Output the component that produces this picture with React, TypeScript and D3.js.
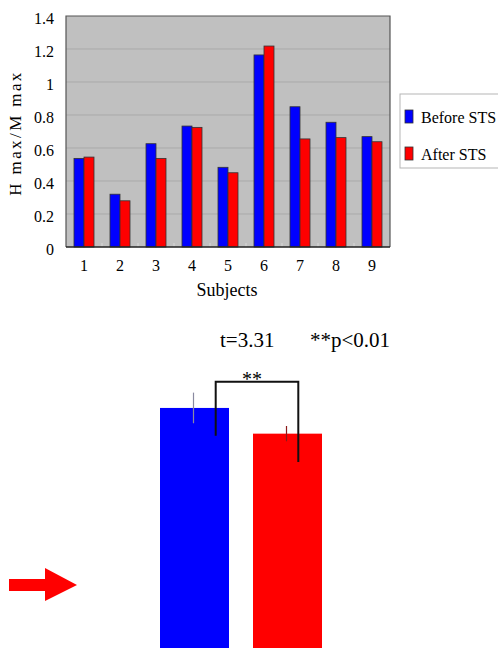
import React, { useEffect, useRef } from 'react';
import * as d3 from 'd3';

// per-subject H max / M max ratio
const subjects = ['1', '2', '3', '4', '5', '6', '7', '8', '9'];
const beforeSTS = [0.537, 0.32, 0.626, 0.733, 0.483, 1.164, 0.85, 0.756, 0.669];
const afterSTS = [0.545, 0.28, 0.537, 0.725, 0.45, 1.218, 0.655, 0.663, 0.638];
const yTicks = [0, 0.2, 0.4, 0.6, 0.8, 1, 1.2, 1.4];
const seriesNames = ['Before STS', 'After STS'];
const seriesColors = ['#0000ff', '#ff0000'];

// group means (bottom panel) with their error bars
const meanLabels = ['Before STS', 'After STS'];
const meanValues = [0.682, 0.635];
const meanErrors = [0.028, 0.014];
// bracket: left end, top, right end (same scale as the mean bars)
const bracketLevels = [0.631, 0.73, 0.583];
const statText = ['t=3.31', '**p<0.01'];

const App = () => {
  const svgRef = useRef<SVGSVGElement | null>(null);

  useEffect(() => {
    if (!svgRef.current) return;
    const svg = d3.select(svgRef.current);
    svg.selectAll('*').remove();

    // ---------- top panel ----------
    const left = 66, right = 390, top = 16, bottom = 247;
    const x = d3.scaleBand().domain(subjects).range([left, right]);
    const inner = d3.scaleBand().domain(seriesNames).range([0, 20]);
    const y = d3.scaleLinear().domain([0, 1.4]).range([bottom, top]);

    svg.append('rect')
      .attr('x', left).attr('y', top)
      .attr('width', right - left).attr('height', bottom - top)
      .attr('fill', '#c0c0c0');

    svg.selectAll('.grid')
      .data(yTicks.slice(1, -1))
      .enter()
      .append('line')
      .attr('x1', left).attr('x2', right)
      .attr('y1', d => y(d)).attr('y2', d => y(d))
      .attr('stroke', '#a9a9a9')
      .attr('stroke-width', 1);

    // plot frame
    svg.append('path')
      .attr('d', `M${left},${bottom}V${top}H${right}V${bottom}`)
      .attr('fill', 'none')
      .attr('stroke', '#555')
      .attr('stroke-width', 1.2);

    const series = [beforeSTS, afterSTS];
    series.forEach((vals, si) => {
      svg.selectAll(`.bar${si}`)
        .data(vals)
        .enter()
        .append('rect')
        .attr('x', (d, i) => (x(subjects[i]) as number) + (x.bandwidth() - 20) / 2 + (inner(seriesNames[si]) as number))
        .attr('y', d => y(d))
        .attr('width', inner.bandwidth())
        .attr('height', d => bottom - y(d))
        .attr('fill', seriesColors[si])
        .attr('stroke', '#333')
        .attr('stroke-width', 0.8);
    });

    // category separators on the axis
    svg.selectAll('.xtick')
      .data(subjects.slice(1))
      .enter()
      .append('line')
      .attr('x1', d => x(d) as number).attr('x2', d => x(d) as number)
      .attr('y1', bottom - 4).attr('y2', bottom)
      .attr('stroke', '#d8d8d8');

    svg.append('line')
      .attr('x1', left).attr('x2', right)
      .attr('y1', bottom).attr('y2', bottom)
      .attr('stroke', '#222')
      .attr('stroke-width', 1.5);

    svg.selectAll('.ylab')
      .data(yTicks)
      .enter()
      .append('text')
      .attr('x', 54)
      .attr('y', d => y(d) + 8)
      .attr('text-anchor', 'end')
      .attr('font-size', 16)
      .text(d => String(d));

    svg.selectAll('.xlab')
      .data(subjects)
      .enter()
      .append('text')
      .attr('x', d => (x(d) as number) + x.bandwidth() / 2)
      .attr('y', 271)
      .attr('text-anchor', 'middle')
      .attr('font-size', 16)
      .text(d => d);

    svg.append('text')
      .attr('x', 227).attr('y', 296)
      .attr('text-anchor', 'middle')
      .attr('font-size', 18)
      .text('Subjects');

    svg.append('text')
      .attr('transform', 'translate(21,133) rotate(-90)')
      .attr('text-anchor', 'middle')
      .attr('font-size', 17)
      .attr('letter-spacing', 2.4)
      .text('H max/M max');

    // legend (runs off the right edge like the source)
    const lg = svg.append('g');
    lg.append('rect')
      .attr('x', 400).attr('y', 94)
      .attr('width', 110).attr('height', 74)
      .attr('fill', 'white')
      .attr('stroke', '#b5b5b5');
    seriesNames.forEach((name, i) => {
      lg.append('rect')
        .attr('x', 405).attr('y', 110 + i * 37)
        .attr('width', 8).attr('height', 13)
        .attr('fill', seriesColors[i])
        .attr('stroke', '#333')
        .attr('stroke-width', 0.8);
      lg.append('text')
        .attr('x', 421).attr('y', 123 + i * 37)
        .attr('font-size', 16)
        .text(name);
    });

    // ---------- bottom panel ----------
    const xm = d3.scaleOrdinal<string, number>().domain(meanLabels).range([160, 253]);
    const barW = 69;
    const ym = d3.scaleLinear().domain([0, 1]).range([781, 234]);

    svg.selectAll('.mean')
      .data(meanValues)
      .enter()
      .append('rect')
      .attr('x', (d, i) => xm(meanLabels[i]))
      .attr('y', d => ym(d))
      .attr('width', barW)
      .attr('height', d => ym(0) - ym(d))
      .attr('fill', (d, i) => seriesColors[i]);

    svg.selectAll('.err')
      .data(meanValues)
      .enter()
      .append('line')
      .attr('x1', (d, i) => xm(meanLabels[i]) + barW / 2 - 1)
      .attr('x2', (d, i) => xm(meanLabels[i]) + barW / 2 - 1)
      .attr('y1', (d, i) => ym(d + meanErrors[i]))
      .attr('y2', (d, i) => ym(d - meanErrors[i]))
      .attr('stroke', (d, i) => (i === 0 ? '#8a8aa0' : '#8b1a1a'))
      .attr('stroke-width', 1.2);

    const bx1 = 215.7, bx2 = 298.3;
    svg.append('path')
      .attr('d', `M${bx1},${ym(bracketLevels[0])}V${ym(bracketLevels[1])}H${bx2}V${ym(bracketLevels[2])}`)
      .attr('fill', 'none')
      .attr('stroke', '#111')
      .attr('stroke-width', 2);

    svg.append('text')
      .attr('x', (bx1 + bx2) / 2 - 5).attr('y', ym(bracketLevels[1]) + 4)
      .attr('text-anchor', 'middle')
      .attr('font-size', 20)
      .text('**');

    svg.append('text')
      .attr('x', 220).attr('y', 347)
      .attr('font-size', 21)
      .text(statText[0]);
    svg.append('text')
      .attr('x', 310).attr('y', 347)
      .attr('font-size', 21)
      .text(statText[1]);

    // red arrow pointing at the bars
    svg.append('path')
      .attr('d', 'M9,579H45V568L77,585L45,601V591H9Z')
      .attr('fill', '#ff0000');
  }, []);

  return (
    <svg
      ref={svgRef}
      width={498}
      height={648}
      fontFamily="'Liberation Serif', Tinos, 'DejaVu Serif', serif"
      style={{ position: 'absolute', left: 0, top: 0, background: 'white' }}
    />
  );
};

export default App;
